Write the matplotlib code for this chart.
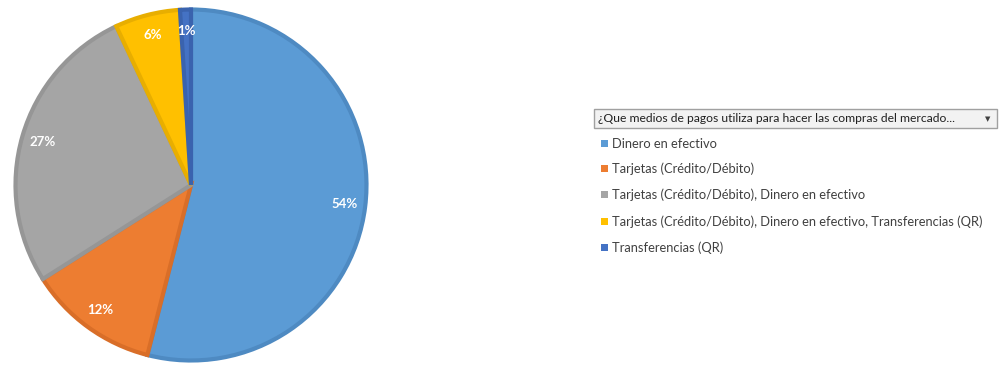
import numpy as np
import matplotlib.pyplot as plt
from matplotlib.patches import Rectangle

labels = ["Dinero en efectivo",
          "Tarjetas (Crédito/Débito)",
          "Tarjetas (Crédito/Débito), Dinero en efectivo",
          "Tarjetas (Crédito/Débito), Dinero en efectivo, Transferencias (QR)",
          "Transferencias (QR)"]
values = [54, 12, 27, 6, 1]
colors = ["#5B9BD5", "#ED7D31", "#A5A5A5", "#FFC000", "#4472C4"]
edges = ["#4E8AC2", "#D96E28", "#969696", "#E8AE00", "#3A63AE"]
legend_title = "¿Que medios de pagos utiliza para hacer las compras del mercado..."

plt.rcParams['font.family'] = ['Lato', 'DejaVu Sans']

W, H = 999, 367
fig = plt.figure(figsize=(W / 100, H / 100), dpi=100)

# pie axes: center (191, 185) px, radius ~179 px
r = 179
cx, cy = 191, 185
ax = fig.add_axes([(cx - r) / W, 1 - (cy + r) / H, 2 * r / W, 2 * r / H])
wedges, texts = ax.pie(values, colors=colors, startangle=90, counterclock=False,
                       wedgeprops=dict(linewidth=3))
for w, e in zip(wedges, edges):
    w.set_edgecolor(e)
    w.set_joinstyle('miter')
ang = 90.0
for v in values:
    mid = np.deg2rad(ang - v * 3.6 / 2)
    ang -= v * 3.6
    ax.text(0.88 * np.cos(mid), 0.88 * np.sin(mid), f"{v}%", color="white",
            fontsize=9.5, fontweight="bold", ha="center", va="center")
ax.set_xlim(-1.02, 1.02)
ax.set_ylim(-1.02, 1.02)
ax.set_aspect('equal')
ax.axis('off')

# legend (pivot-chart style field button + entries)
lax = fig.add_axes([0, 0, 1, 1])
lax.set_xlim(0, W)
lax.set_ylim(H, 0)
lax.axis('off')
lax.add_patch(Rectangle((594, 109), 403, 19, facecolor="#F2F2F2", edgecolor="#A0A0A0", lw=1))
lax.text(598, 118.5, legend_title, fontsize=8.7, color="#202020", va="center", ha="left")
lax.text(988, 118.5, "▼", fontsize=5, color="#404040", va="center", ha="center")
ys = [144, 169, 195, 222, 248]
for lab, c, y in zip(labels, colors, ys):
    lax.add_patch(Rectangle((601, y - 4), 7, 7, facecolor=c, edgecolor="none"))
    lax.text(612, y, lab, fontsize=9.3, color="#404040", va="center", ha="left")

fig.savefig("out.png", dpi=100)
